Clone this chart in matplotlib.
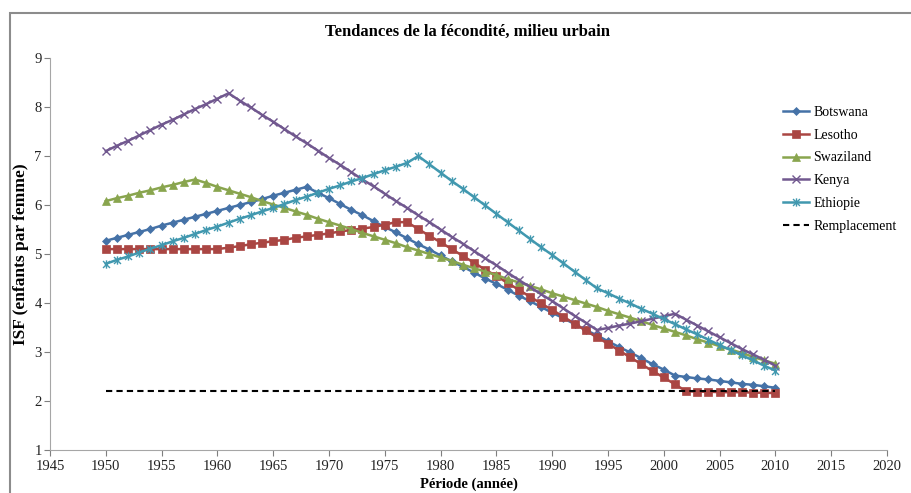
import numpy as np
import matplotlib
matplotlib.use("Agg")
import matplotlib.pyplot as plt
from matplotlib.path import Path
from matplotlib.patches import Rectangle

plt.rcParams["font.family"] = ["Liberation Serif", "DejaVu Serif"]

YEARS = list(range(1950, 2011))

BOTSWANA = [
    5.27, 5.33, 5.39, 5.45, 5.51, 5.58, 5.64, 5.70, 5.76, 5.82,
    5.88, 5.94, 6.00, 6.06, 6.12, 6.19, 6.25, 6.31, 6.37, 6.25,
    6.14, 6.02, 5.90, 5.79, 5.67, 5.55, 5.44, 5.32, 5.20, 5.09,
    4.97, 4.85, 4.74, 4.62, 4.50, 4.39, 4.27, 4.15, 4.04, 3.92,
    3.80, 3.69, 3.57, 3.45, 3.34, 3.22, 3.10, 2.99, 2.87, 2.75,
    2.64, 2.52, 2.49, 2.46, 2.44, 2.41, 2.38, 2.35, 2.33, 2.30,
    2.27,
]
LESOTHO = [
    5.10, 5.10, 5.10, 5.10, 5.10, 5.10, 5.10, 5.10, 5.10, 5.10,
    5.10, 5.13, 5.16, 5.20, 5.23, 5.26, 5.29, 5.33, 5.36, 5.39,
    5.42, 5.46, 5.49, 5.52, 5.55, 5.60, 5.65, 5.65, 5.51, 5.37,
    5.24, 5.10, 4.96, 4.82, 4.68, 4.55, 4.41, 4.27, 4.13, 3.99,
    3.86, 3.72, 3.58, 3.44, 3.30, 3.17, 3.03, 2.89, 2.75, 2.61,
    2.48, 2.34, 2.20, 2.19, 2.19, 2.18, 2.18, 2.18, 2.17, 2.17,
    2.16,
]
SWAZILAND = [
    6.08, 6.14, 6.19, 6.25, 6.30, 6.36, 6.41, 6.47, 6.52, 6.45,
    6.37, 6.30, 6.23, 6.16, 6.08, 6.01, 5.94, 5.87, 5.80, 5.72,
    5.65, 5.58, 5.51, 5.43, 5.36, 5.29, 5.22, 5.14, 5.07, 5.00,
    4.93, 4.86, 4.78, 4.71, 4.64, 4.57, 4.49, 4.42, 4.35, 4.28,
    4.20, 4.13, 4.06, 3.99, 3.92, 3.84, 3.77, 3.70, 3.63, 3.55,
    3.48, 3.41, 3.34, 3.26, 3.19, 3.12, 3.05, 2.98, 2.90, 2.83,
    2.76,
]
KENYA = [
    7.10, 7.21, 7.31, 7.42, 7.53, 7.64, 7.74, 7.85, 7.96, 8.06,
    8.17, 8.28, 8.13, 7.99, 7.84, 7.70, 7.55, 7.40, 7.26, 7.11,
    6.96, 6.82, 6.67, 6.52, 6.38, 6.23, 6.08, 5.94, 5.79, 5.65,
    5.50, 5.35, 5.21, 5.06, 4.91, 4.77, 4.62, 4.47, 4.33, 4.18,
    4.04, 3.89, 3.74, 3.60, 3.45, 3.49, 3.54, 3.58, 3.63, 3.68,
    3.73, 3.78, 3.66, 3.54, 3.42, 3.30, 3.18, 3.06, 2.95, 2.84,
    2.72,
]
ETHIOPIE = [
    4.80, 4.88, 4.95, 5.03, 5.11, 5.18, 5.26, 5.33, 5.41, 5.49,
    5.56, 5.64, 5.72, 5.79, 5.87, 5.94, 6.02, 6.10, 6.17, 6.25,
    6.33, 6.40, 6.48, 6.55, 6.63, 6.71, 6.78, 6.86, 7.00, 6.83,
    6.66, 6.49, 6.33, 6.16, 5.99, 5.82, 5.65, 5.48, 5.31, 5.14,
    4.98, 4.81, 4.64, 4.47, 4.30, 4.20, 4.09, 3.99, 3.88, 3.78,
    3.67, 3.57, 3.46, 3.36, 3.25, 3.14, 3.04, 2.93, 2.83, 2.72,
    2.62,
]
REPLACEMENT_YEARS = [1950, 2010]
REPLACEMENT = [2.2, 2.2]

SERIES = [
    ("Botswana", BOTSWANA, "#4572A7", "D", 4.5),
    ("Lesotho", LESOTHO, "#AA4643", "s", 6),
    ("Swaziland", SWAZILAND, "#89A54E", "^", 6),
    ("Kenya", KENYA, "#71588F", "x", 6),
    ("Ethiopie", ETHIOPIE, "#4198AF", "star", 6),
]

# excel-like asterisk marker: an x with a vertical bar
STAR = Path(
    [(-1, -1), (1, 1), (-1, 1), (1, -1), (0, -1.2), (0, 1.2)],
    [Path.MOVETO, Path.LINETO, Path.MOVETO, Path.LINETO, Path.MOVETO, Path.LINETO],
)

fig = plt.figure(figsize=(9.11, 4.93), dpi=100)
ax = fig.add_axes([50 / 911, 1 - 450 / 493, 837 / 911, 392 / 493])

for name, values, color, marker, ms in SERIES:
    mk = STAR if marker == "star" else marker
    ax.plot(
        YEARS,
        values,
        color=color,
        linewidth=1.8,
        marker=mk,
        markersize=ms,
        markeredgewidth=1.0 if marker in ("x", "star") else 0.5,
        markerfacecolor=color,
        markeredgecolor=color,
        label=name,
    )
ax.plot(
    REPLACEMENT_YEARS,
    REPLACEMENT,
    color="black",
    linestyle=(0, (3, 2)),
    linewidth=1.5,
    label="Remplacement",
)

ax.set_xlim(1945, 2020)
ax.set_ylim(1, 9)
ax.set_xticks(np.arange(1945, 2021, 5))
ax.set_yticks(np.arange(1, 10, 1))
ax.tick_params(labelsize=10.5, colors="#7f7f7f", labelcolor="#222222", length=4)
ax.tick_params(axis="y", pad=2)
for side in ("top", "right"):
    ax.spines[side].set_visible(False)
for side in ("left", "bottom"):
    ax.spines[side].set_color("#a6a6a6")
ax.set_ylabel("ISF (enfants par femme)", fontsize=12.5, fontweight="bold", va="center")
ax.yaxis.set_label_coords((21 - 50) / 837, 0.5)
ax.set_xlabel("Période (année)", fontsize=10.5, fontweight="bold", labelpad=3)
fig.text(0.5135, 1 - 32 / 493, "Tendances de la fécondité, milieu urbain",
         ha="center", va="center", fontsize=12, fontweight="bold")

fig.legend(
    loc="upper left",
    bbox_to_anchor=(783 / 911, 1 - 106 / 493),
    frameon=False,
    fontsize=10,
    handlelength=1.9,
    handletextpad=0.3,
    labelspacing=0.7,
    borderpad=0,
    borderaxespad=0,
)

# outer chart frame
fig.patches.append(
    Rectangle((10 / 911, -0.1), 1.2, 1 - 13 / 493 + 0.1, transform=fig.transFigure,
              fill=False, edgecolor="#8c8c8c", linewidth=1.5)
)

fig.savefig("out.png", dpi=100)
